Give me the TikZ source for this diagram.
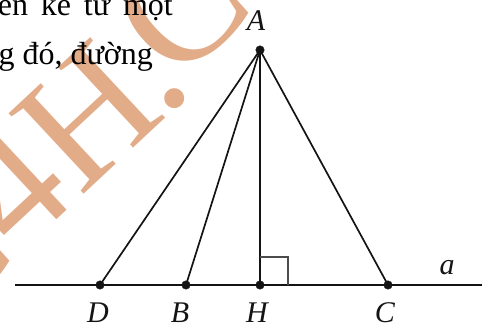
\documentclass[tikz,border=0pt]{standalone}
\usepackage{fontspec}
\setmainfont{Liberation Serif}
\usetikzlibrary{calc}
\definecolor{wmc}{RGB}{226,172,136}
\definecolor{ink}{RGB}{20,20,20}
\begin{document}
\begin{tikzpicture}[x=1pt,y=-1pt,
  wm/.style={text=wmc, font=\fontsize{168}{168}\selectfont, rotate=43, anchor=base west, inner sep=0pt, outer sep=0pt},
  txt/.style={anchor=base east, inner sep=0pt, font=\fontsize{32}{32}\selectfont},
  lbl/.style={font=\fontsize{30}{30}\selectfont\itshape, inner sep=0pt, text=ink},
  ptdot/.style={circle, fill=ink, draw=ink, inner sep=0pt, minimum size=8.5pt},
  seg/.style={line width=1.7pt, draw=ink},
  base/.style={line width=2pt, draw=ink},
  ra/.style={line width=1.1pt, draw=black!70}]
\useasboundingbox (0,0) rectangle (490,328);
% watermark
\node[wm] (w1) at (-62,334) {C};
\node[wm] (w2) at (18,256) {4};
\node[wm] (w3) at (80,198) {H};
\node[wm] (w4) at (164,119) {.};
\node[wm] (w5) at (176,86) {C};
% text fragments
\node[txt] (t1) at (173,16) {\hbox to 175pt{ên kẻ từ một}};
\node[txt] (t2) at (153,65) {g đó, đường};
% points
\coordinate (A) at (260,50);
\coordinate (D) at (100,285);
\coordinate (B) at (186,285);
\coordinate (H) at (260,285);
\coordinate (C) at (388,285);
\coordinate (a1) at (15,285);
\coordinate (a2) at (482,285);
\draw[base] (a1) -- (a2);
\draw[seg] (A) -- (D);
\draw[seg] (A) -- (B);
\draw[seg] (A) -- (C);
\draw[seg, line width=1.9pt] (A) -- (H);
\draw[ra] ($(H)+(0,-28)$) -- ++(28,0) -- ++(0,28);
\foreach \p in {A,D,B,H,C} \node[ptdot] (d\p) at (\p) {};
% labels
\node[lbl] (lA) at (256,21) {A};
\node[lbl] (lD) at (98,313) {D};
\node[lbl] (lB) at (180,313) {B};
\node[lbl] (lH) at (257,313) {H};
\node[lbl] (lC) at (385,313) {C};
\node[lbl] (la) at (447,268) {a};
\end{tikzpicture}
\end{document}
